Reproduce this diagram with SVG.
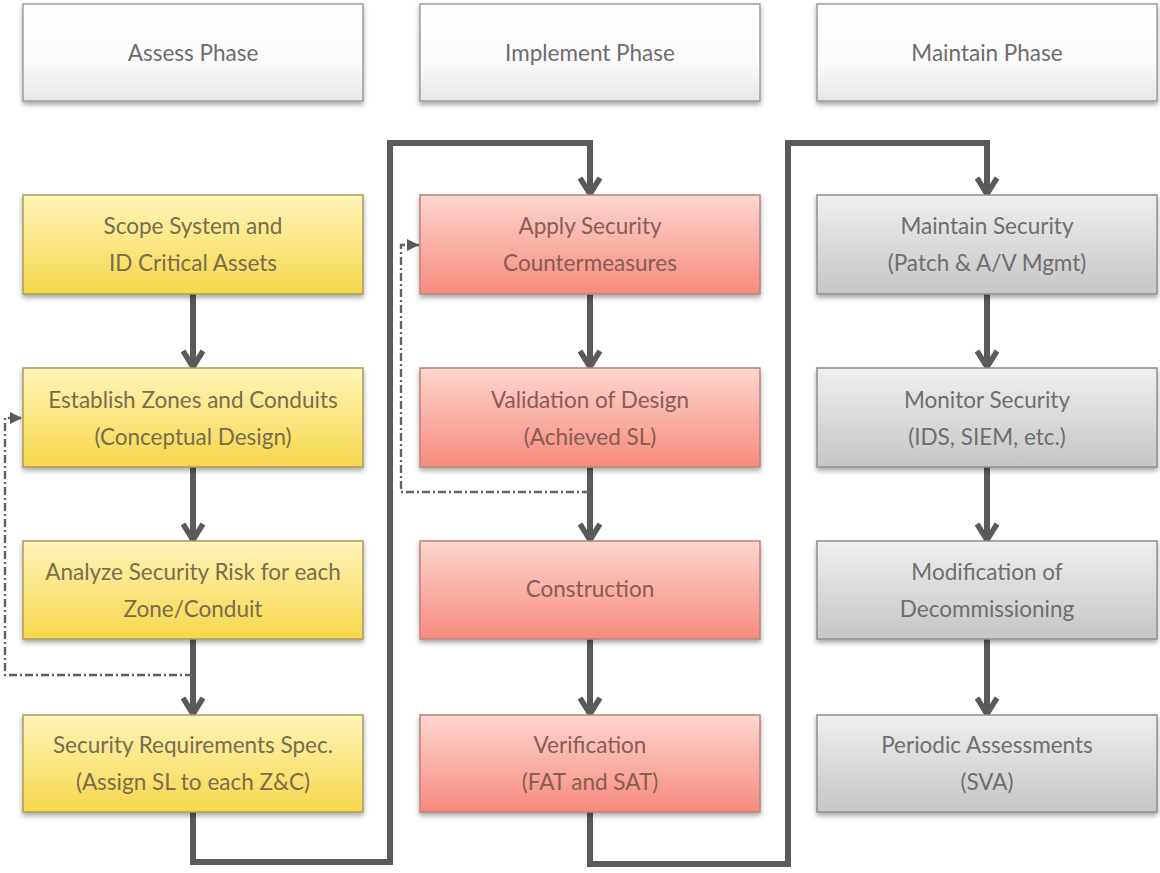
<svg xmlns="http://www.w3.org/2000/svg" width="1160" height="873" viewBox="0 0 1160 873">
  <defs>
    <linearGradient id="gH" x1="0" y1="0" x2="0" y2="1">
      <stop offset="0" stop-color="#ffffff"/>
      <stop offset="0.6" stop-color="#fbfbfb"/>
      <stop offset="1" stop-color="#e6e6e6"/>
    </linearGradient>
    <linearGradient id="gY" x1="0" y1="0" x2="0" y2="1">
      <stop offset="0" stop-color="#fdf4b8"/>
      <stop offset="1" stop-color="#f7d74c"/>
    </linearGradient>
    <linearGradient id="gR" x1="0" y1="0" x2="0" y2="1">
      <stop offset="0" stop-color="#fdd6d0"/>
      <stop offset="1" stop-color="#f78a7c"/>
    </linearGradient>
    <linearGradient id="gG" x1="0" y1="0" x2="0" y2="1">
      <stop offset="0" stop-color="#efefef"/>
      <stop offset="1" stop-color="#c6c6c6"/>
    </linearGradient>
    <filter id="shadow" x="-5%" y="-10%" width="110%" height="130%">
      <feDropShadow dx="0" dy="3" stdDeviation="2.5" flood-color="#000" flood-opacity="0.35"/>
    </filter>
    <!-- open chevron head, drawn pointing along +x so orient="auto" turns it with the line -->
    <marker id="chev" viewBox="0 0 22 24" refX="20" refY="12" markerWidth="22" markerHeight="24" markerUnits="userSpaceOnUse" orient="auto">
      <path d="M3,2 L19,12 L3,22" fill="none" stroke="#5a5a5a" stroke-width="5.5" stroke-linejoin="miter"/>
    </marker>
    <marker id="tri" viewBox="0 0 12 12" refX="12" refY="6" markerWidth="12" markerHeight="12" markerUnits="userSpaceOnUse" orient="auto">
      <path d="M0,0 L12,6 L0,12 Z" fill="#5a5a5a"/>
    </marker>
  </defs>
  <style>
    .box { filter: url(#shadow); stroke-width: 1.5; }
    .hdr { fill: url(#gH); stroke: #9c9c9c; }
    .yel { fill: url(#gY); stroke: #a99b5c; }
    .red { fill: url(#gR); stroke: #b7857c; }
    .gry { fill: url(#gG); stroke: #8f8f8f; }
    text { font-family: Lato, "Open Sans", "Liberation Sans", sans-serif; font-size: 22.5px; text-anchor: middle; }
    .th { fill: #6c6c6c; }
    .ty { fill: #776e4c; }
    .tr { fill: #8a5c57; }
    .tg { fill: #6e6e6e; }
    .main { fill: none; stroke: #5a5a5a; stroke-width: 6; stroke-linejoin: miter; }
    .loop { fill: none; stroke: #626262; stroke-width: 2.4; stroke-dasharray: 8 3 2 3; }
  </style>

  <!-- phase headers -->
  <g id="hdr-assess"><rect class="box hdr" x="23" y="4" width="340" height="97"/><text class="th" x="193" y="61">Assess Phase</text></g>
  <g id="hdr-implement"><rect class="box hdr" x="420" y="4" width="340" height="97"/><text class="th" x="590" y="61">Implement Phase</text></g>
  <g id="hdr-maintain"><rect class="box hdr" x="817" y="4" width="340" height="97"/><text class="th" x="987" y="61">Maintain Phase</text></g>

  <!-- connectors -->
  <g id="connectors">
    <line class="main" x1="193" y1="294" x2="193" y2="368" marker-end="url(#chev)"/>
    <line class="main" x1="193" y1="467" x2="193" y2="541" marker-end="url(#chev)"/>
    <line class="main" x1="193" y1="639" x2="193" y2="715" marker-end="url(#chev)"/>
    <polyline class="main" points="193,812 193,862 390,862 390,143 590,143 590,195" marker-end="url(#chev)"/>
    <line class="main" x1="590" y1="294" x2="590" y2="368" marker-end="url(#chev)"/>
    <line class="main" x1="590" y1="467" x2="590" y2="541" marker-end="url(#chev)"/>
    <line class="main" x1="590" y1="639" x2="590" y2="715" marker-end="url(#chev)"/>
    <polyline class="main" points="590,812 590,864 788,864 788,143 987,143 987,195" marker-end="url(#chev)"/>
    <line class="main" x1="987" y1="294" x2="987" y2="368" marker-end="url(#chev)"/>
    <line class="main" x1="987" y1="467" x2="987" y2="541" marker-end="url(#chev)"/>
    <line class="main" x1="987" y1="639" x2="987" y2="715" marker-end="url(#chev)"/>
    <polyline class="loop" points="193,675 5,675 5,418 22,418" marker-end="url(#tri)"/>
    <polyline class="loop" points="590,492 401,492 401,245 419,245" marker-end="url(#tri)"/>
  </g>

  <!-- assess column -->
  <g id="scope"><rect class="box yel" x="23" y="195" width="340" height="99"/><text class="ty" x="193" y="234">Scope System and</text><text class="ty" x="193" y="271">ID Critical Assets</text></g>
  <g id="zones"><rect class="box yel" x="23" y="368" width="340" height="99"/><text class="ty" x="193" y="408">Establish Zones and Conduits</text><text class="ty" x="193" y="445">(Conceptual Design)</text></g>
  <g id="risk"><rect class="box yel" x="23" y="541" width="340" height="98"/><text class="ty" x="193" y="580">Analyze Security Risk for each</text><text class="ty" x="193" y="617">Zone/Conduit</text></g>
  <g id="srs"><rect class="box yel" x="23" y="715" width="340" height="97"/><text class="ty" x="193" y="753">Security Requirements Spec.</text><text class="ty" x="193" y="790">(Assign SL to each Z&amp;C)</text></g>

  <!-- implement column -->
  <g id="apply"><rect class="box red" x="420" y="195" width="340" height="99"/><text class="tr" x="590" y="234">Apply Security</text><text class="tr" x="590" y="271">Countermeasures</text></g>
  <g id="validation"><rect class="box red" x="420" y="368" width="340" height="99"/><text class="tr" x="590" y="408">Validation of Design</text><text class="tr" x="590" y="445">(Achieved SL)</text></g>
  <g id="construction"><rect class="box red" x="420" y="541" width="340" height="98"/><text class="tr" x="590" y="597">Construction</text></g>
  <g id="verification"><rect class="box red" x="420" y="715" width="340" height="97"/><text class="tr" x="590" y="753">Verification</text><text class="tr" x="590" y="790">(FAT and SAT)</text></g>

  <!-- maintain column -->
  <g id="maintain"><rect class="box gry" x="817" y="195" width="340" height="99"/><text class="tg" x="987" y="234">Maintain Security</text><text class="tg" x="987" y="271">(Patch &amp; A/V Mgmt)</text></g>
  <g id="monitor"><rect class="box gry" x="817" y="368" width="340" height="99"/><text class="tg" x="987" y="408">Monitor Security</text><text class="tg" x="987" y="445">(IDS, SIEM, etc.)</text></g>
  <g id="modification"><rect class="box gry" x="817" y="541" width="340" height="98"/><text class="tg" x="987" y="580">Modification of</text><text class="tg" x="987" y="617">Decommissioning</text></g>
  <g id="periodic"><rect class="box gry" x="817" y="715" width="340" height="97"/><text class="tg" x="987" y="753">Periodic Assessments</text><text class="tg" x="987" y="790">(SVA)</text></g>
</svg>
